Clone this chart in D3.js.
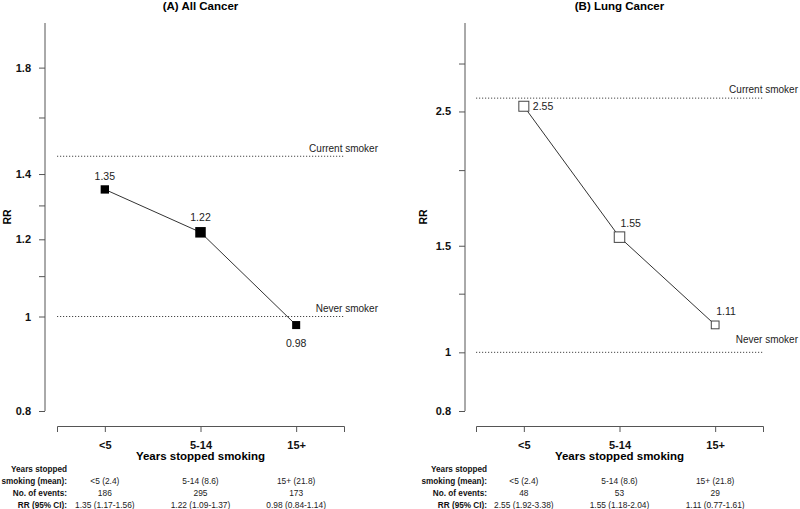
<!DOCTYPE html>
<html>
<head>
<meta charset="utf-8">
<script src="https://cdn.jsdelivr.net/npm/d3@7"></script>
<style>
  body { margin: 0; background: #fff; }
  svg { display: block; font-family: "Liberation Sans", Arial, sans-serif; }
</style>
</head>
<body>
<svg id="chart" width="800" height="509"></svg>
<script>
// ---- data ----
const categories = ["<5", "5-14", "15+"];
const meanLabels = ["<5 (2.4)", "5-14 (8.6)", "15+ (21.8)"];

const allCancerRR = [1.35, 1.22, 0.98];
const allCancerEvents = [186, 295, 173];
const allCancerCI = ["1.35 (1.17-1.56)", "1.22 (1.09-1.37)", "0.98 (0.84-1.14)"];
const allCancerCurrent = 1.46;
const allCancerNever = 1;
const allCancerTicks = [0.8, 1, 1.1, 1.2, 1.3, 1.4, 1.6, 1.8];
const allCancerTickLabels = ["0.8", "1", "", "1.2", "", "1.4", "", "1.8"];
const allCancerDomain = [0.8, 2.0];

const lungRR = [2.55, 1.55, 1.11];
const lungEvents = [48, 53, 29];
const lungCI = ["2.55 (1.92-3.38)", "1.55 (1.18-2.04)", "1.11 (0.77-1.61)"];
const lungCurrent = 2.63;
const lungNever = 1;
const lungTicks = [0.8, 1, 1.25, 1.5, 2, 2.5, 3];
const lungTickLabels = ["0.8", "1", "", "1.5", "", "2.5", ""];
const lungDomain = [0.8, 3.5];

const rowLabels = ["Years stopped", "smoking (mean):", "No. of events:", "RR (95% CI):"];

// ---- drawing ----
const svg = d3.select("#chart");
const axisColor = "#555";

function panel(opt) {
  const g = svg.append("g");
  const y = d3.scaleLog().domain(opt.domain).range([411, 23]);
  const x = d3.scalePoint().domain(categories).range([opt.x0, opt.x0 + 287]).padding(0.5);

  // title
  g.append("text").attr("x", opt.x0 + 143.5).attr("y", 10)
    .attr("text-anchor", "middle").attr("font-size", 11.5).attr("font-weight", "bold")
    .text(opt.title);

  // y axis
  const yAxis = d3.axisLeft(y).tickValues(opt.ticks)
    .tickFormat((d, i) => opt.tickLabels[i]).tickSize(6).tickPadding(8);
  const ya = g.append("g").attr("transform", `translate(${opt.axisX},0)`).call(yAxis);
  ya.select(".domain").attr("stroke", axisColor).attr("d", `M0,${y.range()[0]}V${y.range()[1]}`);
  ya.selectAll(".tick line").attr("stroke", axisColor);
  ya.selectAll(".tick text").attr("font-size", 11).attr("font-weight", "bold")
    .attr("fill", "#111").attr("font-family", "Liberation Sans, Arial, sans-serif");

  g.append("text").attr("transform", `translate(${opt.axisX - opt.rrDx},217) rotate(-90)`)
    .attr("text-anchor", "middle").attr("font-size", 10.5).attr("font-weight", "bold").text("RR");

  // x axis
  const xAxis = d3.axisBottom(x).tickSize(6).tickSizeOuter(6).tickPadding(9);
  const xa = g.append("g").attr("transform", "translate(0,426)").call(xAxis);
  xa.select(".domain").attr("stroke", axisColor);
  xa.selectAll(".tick line").attr("stroke", axisColor);
  xa.selectAll(".tick text").attr("font-size", 11).attr("font-weight", "bold")
    .attr("fill", "#111").attr("font-family", "Liberation Sans, Arial, sans-serif");
  g.append("text").attr("x", opt.x0 + 143.5).attr("y", 460)
    .attr("text-anchor", "middle").attr("font-size", 11.5).attr("font-weight", "bold")
    .text("Years stopped smoking");

  // reference lines
  const [xl, xr] = x.range();
  [[opt.current, "Current smoker", opt.curDy], [opt.never, "Never smoker", opt.nevDy]].forEach(([v, lab, dy]) => {
    g.append("line").attr("x1", xl).attr("x2", xr).attr("y1", y(v)).attr("y2", y(v))
      .attr("stroke", "#333").attr("stroke-width", 0.9).attr("stroke-dasharray", "1.2,1.8");
    g.append("text").attr("x", xr + opt.refLabelDx).attr("y", y(v) + dy)
      .attr("text-anchor", "end").attr("font-size", 10).attr("fill", "#222").text(lab);
  });

  // line
  const pts = categories.map((c, i) => ({ c, v: opt.rr[i], n: opt.events[i], i }));
  g.append("path").datum(pts)
    .attr("d", d3.line().x(d => x(d.c)).y(d => y(d.v)))
    .attr("fill", "none").attr("stroke", "#333").attr("stroke-width", 1);

  const size = d3.scaleSqrt().domain([0, d3.max(opt.events)]).range([0, 10.5]);
  g.selectAll("rect.pt").data(pts).join("rect").attr("class", "pt")
    .attr("x", d => x(d.c) - size(d.n) / 2).attr("y", d => y(d.v) - size(d.n) / 2)
    .attr("width", d => size(d.n)).attr("height", d => size(d.n))
    .attr("fill", opt.filled ? "#000" : "#fff")
    .attr("stroke", opt.filled ? "#000" : "#444").attr("stroke-width", opt.filled ? 0 : 1);

  g.selectAll("text.val").data(pts).join("text").attr("class", "val")
    .attr("x", d => x(d.c) + opt.labDx[d.i]).attr("y", d => y(d.v) + opt.labDy[d.i])
    .attr("text-anchor", opt.labAnchor).attr("font-size", 10.5).attr("fill", "#222")
    .text(d => d3.format(".2f")(d.v));

  // table
  const rowY = [472, 484, 496, 508];
  rowLabels.forEach((t, i) => {
    g.append("text").attr("x", opt.axisX + 22).attr("y", rowY[i])
      .attr("text-anchor", "end").attr("font-size", 8.2).attr("font-weight", "bold")
      .attr("fill", "#111").text(t);
  });
  const rows = [meanLabels, opt.events.map(String), opt.ci];
  rows.forEach((r, ri) => {
    categories.forEach((c, ci) => {
      g.append("text").attr("x", x(c)).attr("y", rowY[ri + 1])
        .attr("text-anchor", "middle").attr("font-size", 8.4).attr("fill", "#222").text(r[ci]);
    });
  });
}

panel({
  title: "(A) All Cancer", axisX: 45, x0: 57, domain: allCancerDomain,
  ticks: allCancerTicks, tickLabels: allCancerTickLabels,
  rr: allCancerRR, events: allCancerEvents, ci: allCancerCI,
  current: allCancerCurrent, never: allCancerNever, curDy: -4, nevDy: -5, refLabelDx: 34,
  filled: true, labAnchor: "middle", labDx: [0, 0, 0], labDy: [-9, -11, 22], rrDx: 34
});

panel({
  title: "(B) Lung Cancer", axisX: 465, x0: 476, domain: lungDomain,
  ticks: lungTicks, tickLabels: lungTickLabels,
  rr: lungRR, events: lungEvents, ci: lungCI,
  current: lungCurrent, never: lungNever, curDy: -5, nevDy: -9, refLabelDx: 35,
  filled: false, labAnchor: "start", labDx: [9, 1, 1], labDy: [4, -10, -10], rrDx: 38
});
</script>
</body>
</html>
